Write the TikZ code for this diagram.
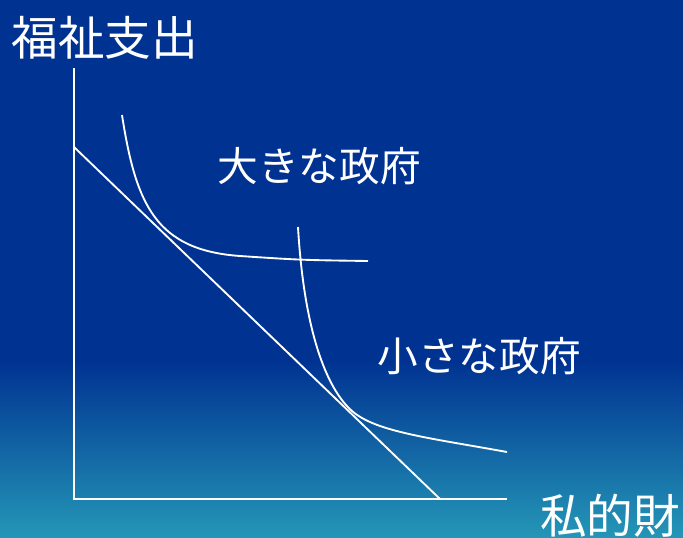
\documentclass[tikz,border=0pt]{standalone}
\usepackage{fontspec}
\newfontfamily\jp{Noto Sans CJK JP}
\definecolor{bgtop}{RGB}{0,50,145}
\definecolor{bgbot}{RGB}{36,150,182}
\begin{document}
\begin{tikzpicture}[x=0.75pt,y=-0.75pt,
  curve/.style={draw=white,line width=1.4pt},
  axis/.style={draw=white,line width=1.6pt},
  biglab/.style={text=white,inner sep=0pt,font=\jp\fontsize{35}{40}\selectfont},
  lab/.style={text=white,inner sep=0pt,font=\jp\fontsize{30.5}{36}\selectfont}]
\useasboundingbox (0,0) rectangle (683,537);
\fill[bgtop] (0,0) rectangle (683,362);
\shade[top color=bgtop,bottom color=bgbot] (0,360) rectangle (683,537);
% axes
\coordinate (ytop) at (74,68);
\coordinate (origin) at (74,499);
\coordinate (xend) at (507,499);
\draw[axis] (ytop) -- (origin) -- (xend);
% budget line
\coordinate (b1) at (74,147);
\coordinate (b2) at (440,499);
\draw[curve] (b1) -- (b2);
% big government indifference curve
\coordinate (g1) at (122,115);
\coordinate (g2) at (240,256);
\coordinate (g3) at (368,261);
\draw[curve] (g1) .. controls (136,205) and (156,250) .. (g2) .. controls (300,260) .. (g3);
% small government indifference curve
\coordinate (s1) at (298,227);
\coordinate (s2) at (352,411);
\coordinate (s3) at (507,452);
\draw[curve] (s1) .. controls (304,330) and (326,388) .. (s2) .. controls (376,432) and (430,438) .. (s3);
% labels
\node[biglab] (ylab) at (105,38) {福祉支出};
\node[biglab] (xlab) at (610,516) {私的財};
\node[lab] (big) at (319,166) {大きな政府};
\node[lab] (small) at (479,356) {小さな政府};
\end{tikzpicture}
\end{document}
